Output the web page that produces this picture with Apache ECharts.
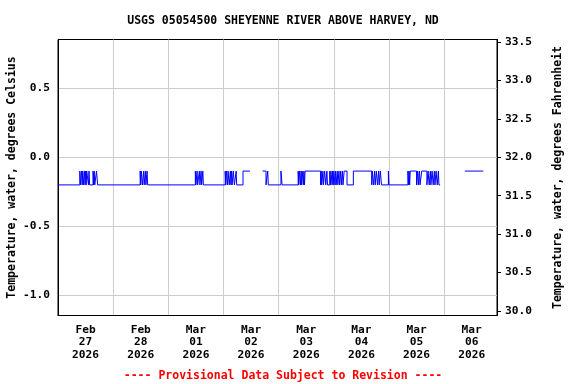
<!DOCTYPE html>
<html>
<head>
<meta charset="utf-8">
<script src="https://cdn.jsdelivr.net/npm/echarts@6/dist/echarts.min.js"></script>
<style>html,body{margin:0;padding:0;background:#fff;}#c{width:576px;height:384px;}</style>
</head>
<body>
<div id="c"></div>
<script>
// ---- data ----
const titleText = 'USGS 05054500 SHEYENNE RIVER ABOVE HARVEY, ND';
const footerText = '---- Provisional Data Subject to Revision ----';
const leftName = 'Temperature, water, degrees Celsius';
const rightName = 'Temperature, water, degrees Fahrenheit';

const xStart = '2026-02-27 00:00';
const xEnd = '2026-03-06 23:00';
const dayLabelTimes = ['2026-02-27 12:00','2026-02-28 12:00','2026-03-01 12:00','2026-03-02 12:00','2026-03-03 12:00','2026-03-04 12:00','2026-03-05 12:00','2026-03-06 12:00'];
const dayLabels = ['Feb\n27\n2026','Feb\n28\n2026','Mar\n01\n2026','Mar\n02\n2026','Mar\n03\n2026','Mar\n04\n2026','Mar\n05\n2026','Mar\n06\n2026'];
const dayGridTimes = ['2026-02-28 00:00','2026-03-01 00:00','2026-03-02 00:00','2026-03-03 00:00','2026-03-04 00:00','2026-03-05 00:00','2026-03-06 00:00'];

const celsiusTicks = [-1.0, -0.5, 0.0, 0.5];
const fahrenheitTicks = [30.0, 30.5, 31.0, 31.5, 32.0, 32.5, 33.0, 33.5];
const cMin = -1.145, cMax = 0.852;

// change points of the (stepped) temperature record, deg C; null = gap
const times = [
'2026-02-27 00:00','2026-02-27 09:30','2026-02-27 09:45','2026-02-27 10:15','2026-02-27 10:30','2026-02-27 10:45','2026-02-27 11:00','2026-02-27 11:30','2026-02-27 11:45','2026-02-27 12:00','2026-02-27 12:15','2026-02-27 12:30','2026-02-27 13:15','2026-02-27 13:30','2026-02-27 13:45','2026-02-27 15:15','2026-02-27 15:30','2026-02-27 15:45','2026-02-27 16:00','2026-02-27 16:45','2026-02-27 17:15',
'2026-02-28 11:45','2026-02-28 12:00','2026-02-28 12:15','2026-02-28 12:45','2026-02-28 13:15','2026-02-28 13:30','2026-02-28 14:00','2026-02-28 14:15','2026-02-28 14:45','2026-02-28 15:00',
'2026-03-01 11:45','2026-03-01 12:00','2026-03-01 12:30','2026-03-01 12:45','2026-03-01 13:30','2026-03-01 13:45','2026-03-01 14:15','2026-03-01 14:30','2026-03-01 15:00','2026-03-01 15:15',
'2026-03-02 00:45','2026-03-02 01:00','2026-03-02 01:15','2026-03-02 01:45','2026-03-02 02:00','2026-03-02 02:30','2026-03-02 03:00','2026-03-02 03:15','2026-03-02 03:30','2026-03-02 03:45','2026-03-02 04:15','2026-03-02 04:45','2026-03-02 05:30','2026-03-02 05:45','2026-03-02 08:30','2026-03-02 11:30','2026-03-02 11:45','2026-03-02 17:00','2026-03-02 18:30','2026-03-02 19:15','2026-03-02 19:30',
'2026-03-03 01:00','2026-03-03 01:30','2026-03-03 08:30','2026-03-03 08:45','2026-03-03 09:00','2026-03-03 09:30','2026-03-03 09:45','2026-03-03 10:00','2026-03-03 10:15','2026-03-03 10:45','2026-03-03 11:00','2026-03-03 11:15','2026-03-03 11:30','2026-03-03 18:15','2026-03-03 18:30','2026-03-03 18:45','2026-03-03 19:15','2026-03-03 19:30','2026-03-03 20:00','2026-03-03 20:30','2026-03-03 21:00','2026-03-03 21:15','2026-03-03 22:15','2026-03-03 22:30','2026-03-03 22:45','2026-03-03 23:15','2026-03-03 23:30','2026-03-03 23:45',
'2026-03-04 00:00','2026-03-04 00:30','2026-03-04 00:45','2026-03-04 01:00','2026-03-04 01:30','2026-03-04 01:45','2026-03-04 02:15','2026-03-04 02:30','2026-03-04 03:00','2026-03-04 03:15','2026-03-04 03:45','2026-03-04 04:00','2026-03-04 04:30','2026-03-04 05:45','2026-03-04 08:30','2026-03-04 16:30','2026-03-04 16:45','2026-03-04 17:15','2026-03-04 17:45','2026-03-04 18:00','2026-03-04 18:30','2026-03-04 19:00','2026-03-04 19:30','2026-03-04 19:45','2026-03-04 20:15','2026-03-04 20:45','2026-03-04 23:45',
'2026-03-05 00:00','2026-03-05 08:15','2026-03-05 08:30','2026-03-05 08:45','2026-03-05 09:00','2026-03-05 09:15','2026-03-05 12:00','2026-03-05 12:30','2026-03-05 12:45','2026-03-05 13:15','2026-03-05 13:30','2026-03-05 14:15','2026-03-05 16:30','2026-03-05 17:00','2026-03-05 17:30','2026-03-05 18:00','2026-03-05 18:15','2026-03-05 18:45','2026-03-05 19:15','2026-03-05 19:45','2026-03-05 20:00','2026-03-05 20:30','2026-03-05 21:00','2026-03-05 21:30','2026-03-05 21:45','2026-03-05 22:15','2026-03-05 22:30',
'2026-03-06 09:00','2026-03-06 17:00'
];
const tempC = [
-0.2,-0.1,-0.2,-0.1,-0.2,-0.1,-0.2,-0.1,-0.2,-0.1,-0.2,-0.1,-0.2,-0.1,-0.2,-0.1,-0.2,-0.1,-0.2,-0.1,-0.2,
-0.1,-0.2,-0.1,-0.2,-0.1,-0.2,-0.1,-0.2,-0.1,-0.2,
-0.1,-0.2,-0.1,-0.2,-0.1,-0.2,-0.1,-0.2,-0.1,-0.2,
-0.1,-0.2,-0.1,-0.2,-0.1,-0.2,-0.1,-0.2,-0.1,-0.2,-0.1,-0.2,-0.1,-0.2,-0.1,-0.1,null,-0.1,-0.2,-0.1,-0.2,
-0.1,-0.2,-0.1,-0.2,-0.1,-0.2,-0.1,-0.2,-0.1,-0.2,-0.1,-0.2,-0.1,-0.2,-0.1,-0.2,-0.1,-0.2,-0.1,-0.2,-0.1,-0.2,-0.1,-0.2,-0.1,-0.2,-0.1,-0.2,
-0.1,-0.2,-0.1,-0.2,-0.1,-0.2,-0.1,-0.2,-0.1,-0.2,-0.1,-0.2,-0.1,-0.2,-0.1,-0.2,-0.1,-0.2,-0.1,-0.2,-0.1,-0.2,-0.1,-0.2,-0.1,-0.2,-0.1,
-0.2,-0.1,-0.2,-0.1,-0.2,-0.1,-0.2,-0.1,-0.2,-0.1,-0.2,-0.1,-0.2,-0.1,-0.2,-0.1,-0.2,-0.1,-0.2,-0.1,-0.2,-0.1,-0.2,-0.1,-0.2,-0.2,null,
-0.1,-0.1
];

// ---- chart ----
const FONT = '"DejaVu Sans Mono", "Liberation Mono", monospace';
const toTs = s => new Date(s.replace(' ', 'T')).getTime();
const labelTs = dayLabelTimes.map(toTs);
const gridTs = dayGridTimes.map(toTs);
const seriesData = times.map((t, i) => [toTs(t), tempC[i]]);

const chart = echarts.init(document.getElementById('c'), null, {renderer: 'canvas'});
chart.setOption({
  animation: false,
  backgroundColor: '#fff',
  title: [
    {text: titleText, left: 278, top: 10, textAlign: 'center',
     textStyle: {fontFamily: FONT, fontWeight: 'bold', fontSize: 11.5, color: '#000'}},
    {text: footerText, left: 278, top: 365, textAlign: 'center',
     textStyle: {fontFamily: FONT, fontWeight: 'bold', fontSize: 11.5, color: '#ff0000'}}
  ],
  grid: {left: 58, right: 79, top: 39.5, bottom: 68.5, show: true, borderColor: '#000', borderWidth: 1,
         containLabel: false, outerBoundsMode: 'none'},
  xAxis: {
    type: 'value', min: toTs(xStart), max: toTs(xEnd), scale: true,
    axisLine: {show: true, onZero: false, lineStyle: {color: '#000', width: 1}},
    axisTick: {show: false, customValues: gridTs},
    splitLine: {show: true, lineStyle: {color: '#cccccc', width: 1}},
    axisLabel: {
      customValues: labelTs, margin: 8, color: '#000',
      fontFamily: FONT, fontWeight: 'bold', fontSize: 11.2, lineHeight: 12.7,
      formatter: function (v) {
        let best = 0, bd = Infinity;
        labelTs.forEach((t, i) => { const d = Math.abs(t - v); if (d < bd) { bd = d; best = i; } });
        return dayLabels[best];
      }
    }
  },
  yAxis: [
    {
      type: 'value', position: 'left', min: cMin, max: cMax,
      name: leftName, nameLocation: 'middle', nameRotate: 90, nameGap: 40, nameMoveOverlap: false,
      nameTextStyle: {fontFamily: FONT, fontWeight: 'bold', fontSize: 11.5, color: '#000'},
      axisLine: {show: true, onZero: false, lineStyle: {color: '#000', width: 1}},
      axisTick: {show: false, customValues: celsiusTicks},
      splitLine: {show: true, lineStyle: {color: '#cccccc', width: 1}},
      axisLabel: {customValues: celsiusTicks, margin: 8, color: '#000',
        fontFamily: FONT, fontWeight: 'bold', fontSize: 11.2,
        formatter: v => Number(v).toFixed(1)}
    },
    {
      type: 'value', position: 'right', min: cMin * 1.8 + 32, max: cMax * 1.8 + 32,
      name: rightName, nameLocation: 'middle', nameRotate: 90, nameGap: 55, nameMoveOverlap: false,
      nameTextStyle: {fontFamily: FONT, fontWeight: 'bold', fontSize: 11.5, color: '#000'},
      axisLine: {show: true, onZero: false, lineStyle: {color: '#000', width: 1}},
      axisTick: {show: true, inside: false, length: 4, customValues: fahrenheitTicks, lineStyle: {color: '#000', width: 1}},
      splitLine: {show: false},
      axisLabel: {customValues: fahrenheitTicks, margin: 8, color: '#000',
        fontFamily: FONT, fontWeight: 'bold', fontSize: 11.2,
        formatter: v => Number(v).toFixed(1)}
    }
  ],
  series: [{
    type: 'line', yAxisIndex: 0, data: seriesData, step: 'end',
    showSymbol: false, symbol: 'none', connectNulls: false,
    lineStyle: {color: '#0000ff', width: 1}
  }]
});
</script>
</body>
</html>
